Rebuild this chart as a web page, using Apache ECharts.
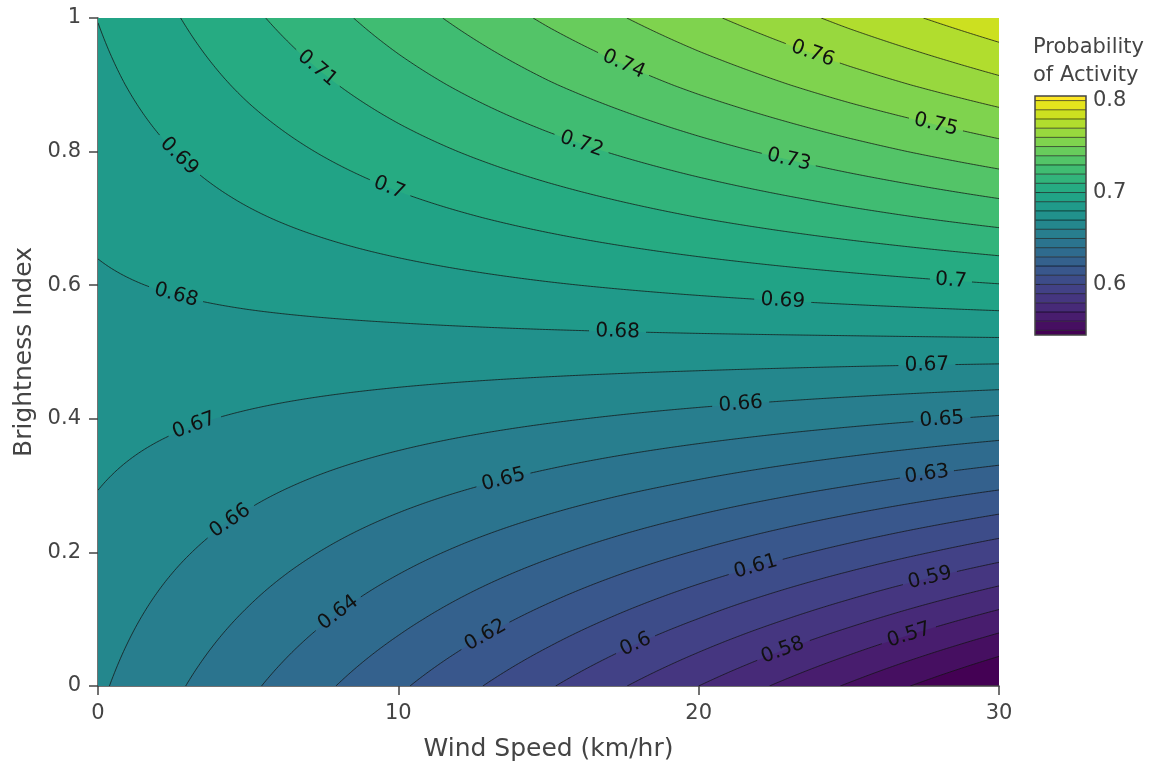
<!DOCTYPE html>
<html>
<head>
<meta charset="utf-8">
<title>Probability of Activity</title>
<script src="https://cdn.jsdelivr.net/npm/echarts@6.0.0/dist/echarts.min.js"></script>
<style>
html, body { margin: 0; padding: 0; background: #ffffff; }
#chart { width: 1154px; height: 769px; }
</style>
</head>
<body>
<div id="chart"></div>
<script>
// ---------------- data ----------------
const windSpeed = [0, 5, 10, 15, 20, 25, 30];
const brightness = [0, 0.1, 0.2, 0.3, 0.4, 0.5, 0.6, 0.7, 0.8, 0.9, 1];
// rows follow brightness, columns follow windSpeed
const probability = [
  [0.6615, 0.6418, 0.6216, 0.6010, 0.5800, 0.5588, 0.5373],
  [0.6644, 0.6487, 0.6327, 0.6164, 0.5998, 0.5830, 0.5659],
  [0.6673, 0.6556, 0.6436, 0.6315, 0.6192, 0.6068, 0.5942],
  [0.6702, 0.6624, 0.6544, 0.6464, 0.6383, 0.6301, 0.6218],
  [0.6731, 0.6691, 0.6651, 0.6610, 0.6569, 0.6528, 0.6487],
  [0.6760, 0.6758, 0.6755, 0.6753, 0.6751, 0.6748, 0.6746],
  [0.6789, 0.6824, 0.6858, 0.6893, 0.6927, 0.6961, 0.6995],
  [0.6817, 0.6889, 0.6960, 0.7029, 0.7098, 0.7166, 0.7233],
  [0.6845, 0.6953, 0.7059, 0.7162, 0.7263, 0.7362, 0.7459],
  [0.6874, 0.7017, 0.7156, 0.7292, 0.7423, 0.7550, 0.7672],
  [0.6902, 0.7080, 0.7251, 0.7417, 0.7576, 0.7728, 0.7873]
];
const contourLevels = [0.55, 0.56, 0.57, 0.58, 0.59, 0.6, 0.61, 0.62, 0.63, 0.64, 0.65, 0.66, 0.67,
  0.68, 0.69, 0.7, 0.71, 0.72, 0.73, 0.74, 0.75, 0.76, 0.77, 0.78, 0.79, 0.8];
// contour labels: level and the wind speed where the label sits on that line
const labelLevels = [0.71, 0.74, 0.76, 0.75, 0.69, 0.72, 0.73, 0.7, 0.68, 0.69, 0.7, 0.68, 0.67,
  0.66, 0.65, 0.67, 0.65, 0.63, 0.66, 0.61, 0.59, 0.64, 0.62, 0.6, 0.58, 0.57];
const labelWind = [7.3, 17.5, 23.8, 27.9, 2.7, 16.1, 23.0, 9.7, 2.6, 22.8, 28.4, 17.3, 27.6,
  21.4, 28.1, 3.2, 13.5, 27.6, 4.4, 21.9, 27.7, 8.0, 12.9, 17.9, 22.8, 27.0];
const colorbarTicks = [0.6, 0.7, 0.8];
const xTitle = 'Wind Speed (km/hr)';
const yTitle = 'Brightness Index';
const colorbarTitle = 'Probability\nof Activity';

// ---------------- styles ----------------
const FONT = "'DejaVu Sans', Verdana, sans-serif";
const TEXT = '#444';
const LABEL_SIZE = 20;
const viridisStops = ['#440154', '#48186a', '#472d7b', '#424086', '#3b528b', '#33638d', '#2c728e',
  '#26828e', '#21918c', '#1fa088', '#28ae80', '#3fbc73', '#5ec962', '#84d44b', '#addc30', '#d8e219', '#fde725'];

function hexRgb(h) { return [parseInt(h.slice(1, 3), 16), parseInt(h.slice(3, 5), 16), parseInt(h.slice(5, 7), 16)]; }
function viridis(t) {
  t = Math.max(0, Math.min(1, t));
  const n = viridisStops.length;
  const pos = viridisStops.map((_, i) => (i === n - 1 ? 1 : i * 16 / 255));
  let i = 0;
  while (i < n - 2 && t > pos[i + 1]) i++;
  const f = Math.max(0, Math.min(1, (t - pos[i]) / (pos[i + 1] - pos[i])));
  const a = hexRgb(viridisStops[i]), b = hexRgb(viridisStops[i + 1]);
  return 'rgb(' + a.map((v, j) => Math.round(v + (b[j] - v) * f)).join(',') + ')';
}

const step = contourLevels[1] - contourLevels[0];
const cbMin = contourLevels[0] - step / 2;
const cbMax = contourLevels[contourLevels.length - 1] + step / 2;
function bandColor(k) { return viridis(k * step / (cbMax - cbMin)); }

const W0 = windSpeed[0], W1 = windSpeed[windSpeed.length - 1];
const B0 = brightness[0], B1 = brightness[brightness.length - 1];

function columnAt(w) {
  w = Math.max(W0, Math.min(W1, w));
  let j = 0;
  while (j < windSpeed.length - 2 && w > windSpeed[j + 1]) j++;
  const t = (w - windSpeed[j]) / (windSpeed[j + 1] - windSpeed[j]);
  return probability.map(row => row[j] * (1 - t) + row[j + 1] * t);
}
function crossing(col, lv) {
  const n = col.length;
  if (col[0] >= lv) return brightness[0];
  if (col[n - 1] < lv) return brightness[n - 1];
  for (let i = 0; i < n - 1; i++) {
    if (col[i] < lv && col[i + 1] >= lv) {
      return brightness[i] + (lv - col[i]) / (col[i + 1] - col[i]) * (brightness[i + 1] - brightness[i]);
    }
  }
  return brightness[n - 1];
}
function isInside(col, lv) { return col[0] < lv && col[col.length - 1] >= lv; }

const NS = 600;
const samples = [];
for (let s = 0; s <= NS; s++) {
  const w = W0 + (W1 - W0) * s / NS;
  samples.push({ w, col: columnAt(w) });
}
function bisect(a, b, lv) {
  const inA = isInside(columnAt(a), lv);
  for (let it = 0; it < 40; it++) {
    const m = (a + b) / 2;
    if (isInside(columnAt(m), lv) === inA) a = m; else b = m;
  }
  return inA ? a : b;
}
function buildPaths(lv) {
  const paths = []; let cur = null; let prev = null;
  for (const s of samples) {
    const ins = isInside(s.col, lv);
    if (ins) {
      if (!cur) {
        cur = [];
        if (prev && !prev.ins) {
          const wb = bisect(prev.w, s.w, lv);
          cur.push([wb, crossing(columnAt(wb), lv)]);
        }
        paths.push(cur);
      }
      cur.push([s.w, crossing(s.col, lv)]);
    } else if (cur) {
      const wb = bisect(prev.w, s.w, lv);
      cur.push([wb, crossing(columnAt(wb), lv)]);
      cur = null;
    }
    prev = { w: s.w, ins };
  }
  return paths;
}
const contourPaths = contourLevels.map(buildPaths);
const labelsByLevel = contourLevels.map(() => []);
labelLevels.forEach((lv, i) => {
  const k = contourLevels.findIndex(l => Math.abs(l - lv) < 1e-9);
  if (k >= 0) labelsByLevel[k].push(labelWind[i]);
});
function textWidth(str, size) {
  let w = 0;
  for (const ch of str) w += (ch === '.' ? 0.318 : 0.636);
  return w * size;
}

function renderFill(params, api) {
  const k = api.value(2);
  const lv = contourLevels[k];
  const pts = samples.map(s => api.coord([s.w, crossing(s.col, lv)]));
  pts.push(api.coord([W1, B1]));
  pts.push(api.coord([W0, B1]));
  return { type: 'polygon', shape: { points: pts }, style: { fill: bandColor(k + 1), stroke: null } };
}

function renderLines(params, api) {
  const k = api.value(2);
  const lv = contourLevels[k];
  const labs = labelsByLevel[k].map(w => {
    const c = api.coord([w, crossing(columnAt(w), lv)]);
    const a = api.coord([w - 0.25, crossing(columnAt(w - 0.25), lv)]);
    const b = api.coord([w + 0.25, crossing(columnAt(w + 0.25), lv)]);
    let ang = Math.atan2(-(b[1] - a[1]), b[0] - a[0]);
    if (ang > Math.PI / 2) ang -= Math.PI;
    if (ang < -Math.PI / 2) ang += Math.PI;
    const txt = String(lv);
    return { c, ang, txt, r: textWidth(txt, LABEL_SIZE) / 2 + 5 };
  });
  const children = [];
  const lineStyle = { stroke: 'rgba(20,20,20,0.75)', lineWidth: 1, fill: null };
  for (const path of contourPaths[k]) {
    let cur = [];
    for (const p of path) {
      const px = api.coord(p);
      const hidden = labs.some(L => Math.hypot(px[0] - L.c[0], px[1] - L.c[1]) < L.r);
      if (hidden) {
        if (cur.length > 1) children.push({ type: 'polyline', shape: { points: cur }, style: lineStyle });
        cur = [];
      } else cur.push(px);
    }
    if (cur.length > 1) children.push({ type: 'polyline', shape: { points: cur }, style: lineStyle });
  }
  for (const L of labs) {
    children.push({
      type: 'text', x: L.c[0], y: L.c[1], rotation: L.ang,
      style: { text: L.txt, fill: '#111', fontSize: LABEL_SIZE, fontFamily: FONT, align: 'center', verticalAlign: 'middle' }
    });
  }
  return { type: 'group', children };
}

function renderColorbar(params, api) {
  const k = api.value(2);
  const N = contourLevels.length;
  const lo = k === 0 ? cbMin : contourLevels[k - 1];
  const hi = k === N ? cbMax : contourLevels[k];
  const p1 = api.coord([0, hi]);
  const p2 = api.coord([1, lo]);
  const children = [{
    type: 'rect', shape: { x: p1[0], y: p1[1], width: p2[0] - p1[0], height: p2[1] - p1[1] },
    style: { fill: bandColor(k), stroke: null }
  }];
  if (k > 0) {
    children.push({ type: 'line', z2: 10, shape: { x1: p1[0], y1: p2[1], x2: p2[0], y2: p2[1] },
      style: { stroke: 'rgba(0,0,0,0.6)', lineWidth: 1 } });
  }
  if (k === N) {
    const a = api.coord([0, cbMax]), b = api.coord([1, cbMin]);
    children.push({ type: 'rect', z2: 20, shape: { x: a[0], y: a[1], width: b[0] - a[0], height: b[1] - a[1] },
      style: { fill: null, stroke: TEXT, lineWidth: 1.5 } });
  }
  return { type: 'group', children };
}

const levelData = contourLevels.map((l, i) => [W0, B0, i]);
const bandData = contourLevels.concat([cbMax]).map((l, i) => [0, cbMin, i]);

const chart = echarts.init(document.getElementById('chart'), null, { renderer: 'canvas' });
chart.setOption({
  animation: false,
  backgroundColor: '#ffffff',
  textStyle: { fontFamily: FONT },
  title: {
    text: colorbarTitle, left: 1033, top: 34, padding: 0,
    textStyle: { fontSize: 21, fontWeight: 'normal', color: TEXT, lineHeight: 28, fontFamily: FONT }
  },
  grid: [
    { left: 98, top: 18, width: 901, height: 668, show: true, backgroundColor: bandColor(0), borderWidth: 0 },
    { left: 1035, top: 96, width: 51, height: 239 }
  ],
  xAxis: [
    {
      gridIndex: 0, type: 'value', min: W0, max: W1, interval: 10,
      name: xTitle, nameLocation: 'middle', nameGap: 51,
      nameTextStyle: { fontSize: 25, color: TEXT, fontFamily: FONT },
      axisLine: { show: true, onZero: false, lineStyle: { color: TEXT, width: 1.5 } },
      axisTick: { show: true, length: 9, lineStyle: { color: TEXT, width: 1.5 } },
      axisLabel: { fontSize: 21, color: TEXT, margin: 17, fontFamily: FONT },
      splitLine: { show: false }
    },
    { gridIndex: 1, type: 'value', min: 0, max: 1, show: false }
  ],
  yAxis: [
    {
      gridIndex: 0, type: 'value', min: B0, max: B1, interval: 0.2,
      name: yTitle, nameLocation: 'middle', nameGap: 60,
      nameTextStyle: { fontSize: 25, color: TEXT, fontFamily: FONT },
      axisLine: { show: true, onZero: false, lineStyle: { color: TEXT, width: 1.5 } },
      axisTick: { show: true, length: 9, lineStyle: { color: TEXT, width: 1.5 } },
      axisLabel: { fontSize: 21, color: TEXT, margin: 17, fontFamily: FONT },
      splitLine: { show: false }
    },
    {
      gridIndex: 1, type: 'value', min: cbMin, max: cbMax, position: 'right',
      axisLine: { show: false },
      axisTick: { show: true, length: 5, customValues: colorbarTicks, lineStyle: { color: TEXT, width: 1.5 } },
      axisLabel: { customValues: colorbarTicks, fontSize: 21, color: TEXT, margin: 7, fontFamily: FONT },
      splitLine: { show: false }
    }
  ],
  series: [
    { type: 'custom', name: 'fill', xAxisIndex: 0, yAxisIndex: 0, data: levelData, renderItem: renderFill, clip: true, silent: true, z: 1 },
    { type: 'custom', name: 'lines', xAxisIndex: 0, yAxisIndex: 0, data: levelData, renderItem: renderLines, clip: true, silent: true, z: 2 },
    { type: 'custom', name: 'colorbar', xAxisIndex: 1, yAxisIndex: 1, data: bandData, renderItem: renderColorbar, silent: true, z: 2 }
  ]
});
</script>
</body>
</html>
